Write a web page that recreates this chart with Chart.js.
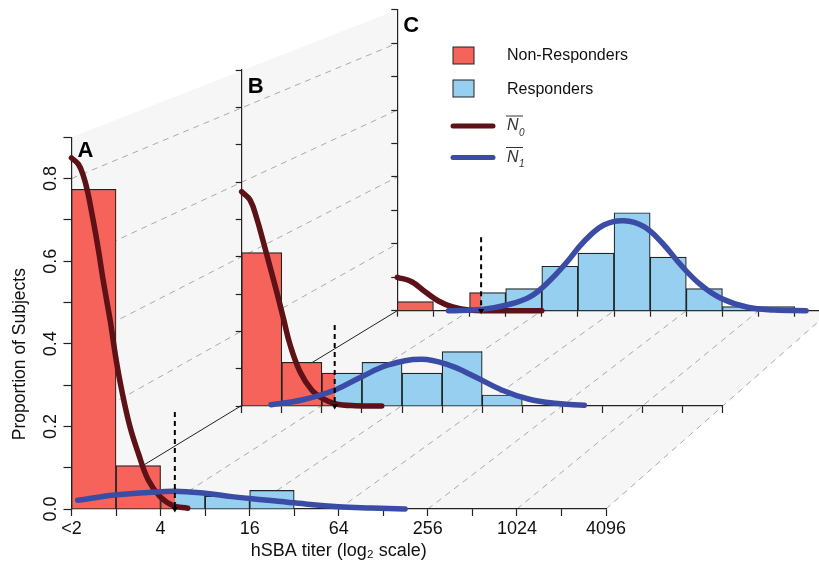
<!DOCTYPE html>
<html>
<head>
<meta charset="utf-8">
<title>hSBA titer</title>
<script src="https://cdn.jsdelivr.net/npm/chart.js@4"></script>
<style>
  html, body { margin: 0; padding: 0; background: #fff; overflow: hidden; }
  #wrap { position: relative; width: 819px; height: 562px; overflow: hidden; }
  #wrap canvas { position: absolute; left: 0; top: 0; }
</style>
</head>
<body>
<div id="wrap">
  <canvas id="chartC" width="900" height="562"></canvas>
  <canvas id="chartB" width="900" height="562"></canvas>
  <canvas id="chartA" width="900" height="562"></canvas>
</div>
<script>
// bins are log2 steps, 0 = <2 ... 12 = 4096
const binCentres = [0.5, 1.5, 2.5, 3.5, 4.5, 5.5, 6.5, 7.5, 8.5, 9.5, 10.5];
const xTickLabels = ['<2', '4', '16', '64', '256', '1024', '4096'];
const cutoff = 2.32;

const nonRespA = [0.774, 0.105, null, null, null, null, null, null, null, null, null];
const respA    = [null, null, 0.04, 0.031, 0.045, null, null, null, null, null, null];
const n0xA = [0, 0.153, 0.265, 0.364, 0.454, 0.543, 0.624, 0.7, 0.79, 0.88, 0.992, 1.127, 1.313, 1.5, 1.724, 1.987, 2.286, 2.609];
const n0yA = [0.85, 0.835, 0.807, 0.767, 0.718, 0.666, 0.614, 0.561, 0.505, 0.449, 0.368, 0.288, 0.199, 0.135, 0.07, 0.03, 0.008, 0.002];
const n1xA = [0.139, 0.977, 1.724, 2.324, 2.997, 3.597, 4.344, 5.092, 5.99, 6.74, 7.488];
const n1yA = [0.021, 0.034, 0.04, 0.043, 0.038, 0.03, 0.022, 0.0138, 0.0056, 0.0024, 0];
const dashTopA = 0.235;

const nonRespB = [0.411, 0.117, null, null, null, null, null, null, null, null, null];
const respB    = [null, null, 0.088, 0.117, 0.088, 0.1455, 0.0295, null, null, null, null];
const n0xB = [0, 0.207, 0.374, 0.539, 0.706, 0.873, 1.04, 1.207, 1.455, 1.747, 2.036, 2.329, 2.828, 3.494];
const n0yB = [0.574, 0.552, 0.503, 0.44, 0.373, 0.306, 0.235, 0.164, 0.0919, 0.0428, 0.0188, 0.0062, 0.0008, 0];
const n1xB = [0.731, 1.497, 2.328, 2.994, 3.658, 4.491, 5.155, 5.82, 6.487, 7.151, 7.817, 8.548];
const n1yB = [0.0035, 0.016, 0.043, 0.0785, 0.11, 0.125, 0.11, 0.0785, 0.043, 0.0188, 0.0072, 0.0019];
const dashTopB = 0.217;

const nonRespC = [0.027, null, null, null, null, null, null, null, null, null, null];
const respC    = [null, null, 0.054, 0.066, 0.133, 0.1725, 0.293, 0.16, 0.066, 0.012, 0.012];
const n0xC = [0, 0.4, 0.769, 1.138, 1.51, 1.97, 2.53, 3.27, 4.0];
const n0yC = [0.1, 0.0867, 0.0568, 0.029, 0.012, 0.002, 0, 0, 0];
const n1xC = [1.416, 2.343, 3.035, 3.682, 4.237, 4.703, 5.162, 5.717, 6.272, 6.828, 7.339, 7.847, 8.402, 8.957, 9.698, 10.436, 11.315];
const n1yC = [0, 0.004, 0.0171, 0.0419, 0.0918, 0.1465, 0.2063, 0.2562, 0.2691, 0.2512, 0.2016, 0.1367, 0.0769, 0.0371, 0.0102, 0.0021, 0];
const dashTopC = 0.2195;

const RED = '#f5635a', BLUE = '#96cfef', DARKRED = '#5c1216', DARKBLUE = '#3a4ca6', INK = '#222222';
const FONT = '"Liberation Sans", Arial, sans-serif';

function pts(xs, ys) { return xs.map((x, i) => ({ x: x, y: ys[i] })); }
function bars(vals) {
  return binCentres.map((x, i) => ({ x: x, y: vals[i] })).filter(p => p.y !== null);
}

// the bin holding the cutoff is red on the left of it and blue on the right
function respColor(c) {
  if (c.type !== 'data' || c.raw.x !== 2.5) return BLUE;
  const sx = c.chart.scales.x;
  const x0 = sx.getPixelForValue(2), x1 = sx.getPixelForValue(3);
  if (!isFinite(x0) || !isFinite(x1)) return BLUE; // scale not laid out yet
  const g = c.chart.ctx.createLinearGradient(x0, 0, x1, 0);
  const f = cutoff - 2;
  g.addColorStop(0, RED); g.addColorStop(f, RED);
  g.addColorStop(f, BLUE); g.addColorStop(1, BLUE);
  return g;
}

function panel(id, box, d, extra) {
  const yWidth = box.yWidth, xHeight = box.xHeight;
  return new Chart(document.getElementById(id), {
    type: 'bar',
    data: {
      datasets: [
        { label: 'Non-Responders', data: bars(d.non), backgroundColor: RED, borderColor: INK, borderWidth: 1.2,
          grouped: false, barPercentage: 1, categoryPercentage: 1, order: 6 },
        { label: 'Responders', data: bars(d.resp), backgroundColor: respColor, borderColor: INK, borderWidth: 1.2,
          grouped: false, barPercentage: 1, categoryPercentage: 1, order: 5 },
        { type: 'line', label: 'N0', data: d.n0, borderColor: DARKRED, borderWidth: 5.5, borderCapStyle: 'round',
          tension: 0.4, pointRadius: 0, clip: false, order: 4 },
        { type: 'line', label: 'N1', data: d.n1, borderColor: DARKBLUE, borderWidth: 5.5, borderCapStyle: 'round',
          tension: 0.4, pointRadius: 0, clip: false, order: 3 },
        { type: 'line', label: 'cutoff', data: d.dash, borderColor: '#000', borderWidth: 2, borderDash: [5, 4],
          pointStyle: 'triangle', pointRadius: [0, 3.5], pointRotation: 180, pointBackgroundColor: '#000',
          pointBorderWidth: 0, clip: false, order: 2 }
      ]
    },
    options: {
      responsive: false,
      animation: false,
      devicePixelRatio: 1,
      events: [],
      layout: { padding: { left: box.left - yWidth, right: 900 - box.right, top: box.top, bottom: 562 - box.bottom - xHeight } },
      plugins: { legend: { display: false }, tooltip: { enabled: false }, title: { display: false } },
      scales: {
        x: {
          type: 'linear', min: 0, max: 12, offset: false,
          afterFit: s => { s.height = xHeight; },
          grid: { offset: false, drawOnChartArea: false, tickLength: box.xTick, tickColor: INK, tickWidth: 1.2 },
          border: { color: INK, width: 1.2 },
          title: extra.xTitle || { display: false },
          ticks: {
            display: extra.labels, stepSize: 1, autoSkip: false, maxRotation: 0, padding: 2,
            color: '#111', font: { family: FONT, size: 18 },
            callback: v => (v % 2 === 0 ? xTickLabels[v / 2] : '')
          }
        },
        y: {
          type: 'linear', min: 0, max: 0.9,
          afterFit: s => { s.width = yWidth; },
          grid: { drawOnChartArea: false, tickLength: box.yTick, tickColor: INK, tickWidth: 1.2 },
          border: { color: INK, width: 1.2 },
          ticks: {
            display: extra.labels, stepSize: 0.1, autoSkip: false, minRotation: 90, maxRotation: 90, padding: 0,
            crossAlign: 'center', color: '#111', font: { family: FONT, size: 18 },
            callback: (v, i) => (i % 2 === 0 && i < 9 ? v.toFixed(1) : '')
          }
        }
      }
    },
    plugins: extra.plugins
  });
}

function panelLetter(letter, drop) {
  return {
    id: 'letter' + letter,
    afterDraw(chart) {
      const c = chart.ctx, s = chart.scales;
      c.save();
      c.font = 'bold 22px ' + FONT;
      c.fillStyle = '#000';
      c.textAlign = 'left';
      c.textBaseline = 'alphabetic';
      c.fillText(letter, s.x.getPixelForValue(0) + 6, s.y.getPixelForValue(0.9) + drop);
      c.restore();
    }
  };
}

const yTitlePlugin = {
  id: 'yTitle',
  afterDraw(chart) {
    const c = chart.ctx;
    c.save();
    c.translate(20, chart.scales.y.getPixelForValue(0.375));
    c.rotate(-Math.PI / 2);
    c.font = '17.5px ' + FONT;
    c.fillStyle = '#111';
    c.textAlign = 'center';
    c.textBaseline = 'middle';
    c.fillText('Proportion of Subjects', 0, 0);
    c.restore();
  }
};

const chartA = panel('chartA',
  { left: 71.5, right: 606, top: 137.3, bottom: 509, yWidth: 71.5, xHeight: 53, xTick: 7, yTick: 8 },
  { non: nonRespA, resp: respA, n0: pts(n0xA, n0yA), n1: pts(n1xA, n1yA), dash: [{ x: cutoff, y: dashTopA }, { x: cutoff, y: 0 }] },
  { labels: true,
    xTitle: { display: true, text: 'hSBA titer (log\u2082 scale)', color: '#111', font: { family: FONT, size: 18 }, padding: { top: 0, bottom: 0 } },
    plugins: [panelLetter('A', 20), yTitlePlugin] });

const chartB = panel('chartB',
  { left: 241.7, right: 722.7, top: 70, bottom: 406, yWidth: 7, xHeight: 7, xTick: 7, yTick: 6 },
  { non: nonRespB, resp: respB, n0: pts(n0xB, n0yB), n1: pts(n1xB, n1yB), dash: [{ x: cutoff, y: dashTopB }, { x: cutoff, y: 0 }] },
  { labels: false, plugins: [panelLetter('B', 23)] });

// back walls and floor join the three panels, drawn behind panel C
const wallPlugin = {
  id: 'walls',
  beforeDraw(chart) {
    const c = chart.ctx;
    const ax = chartA.scales.x, ay = chartA.scales.y, cx = chart.scales.x, cy = chart.scales.y;
    const x0a = ax.getPixelForValue(0), x0c = cx.getPixelForValue(0);
    c.save();
    c.fillStyle = '#f6f6f6';
    c.beginPath();
    c.moveTo(x0a, ay.getPixelForValue(0));
    c.lineTo(x0a, ay.getPixelForValue(0.9));
    c.lineTo(x0c, cy.getPixelForValue(0.9));
    c.lineTo(x0c, cy.getPixelForValue(0));
    c.lineTo(cx.getPixelForValue(12), cy.getPixelForValue(0));
    c.lineTo(ax.getPixelForValue(12), ay.getPixelForValue(0));
    c.closePath();
    c.fill();
    c.strokeStyle = '#aaaaaa';
    c.lineWidth = 1;
    c.setLineDash([6, 5]);
    [0.2, 0.4, 0.6, 0.8].forEach(v => {
      c.beginPath();
      c.moveTo(x0a, ay.getPixelForValue(v));
      c.lineTo(x0c, cy.getPixelForValue(v));
      c.stroke();
    });
    [2, 4, 6, 8, 10, 12].forEach(v => {
      c.beginPath();
      c.moveTo(ax.getPixelForValue(v), ay.getPixelForValue(0));
      c.lineTo(cx.getPixelForValue(v), cy.getPixelForValue(0));
      c.stroke();
    });
    c.setLineDash([]);
    c.strokeStyle = INK;
    c.beginPath();
    c.moveTo(x0a, ay.getPixelForValue(0));
    c.lineTo(x0c, cy.getPixelForValue(0));
    c.stroke();
    c.restore();
  }
};

const legendPlugin = {
  id: 'legendBox',
  afterDraw(chart) {
    const c = chart.ctx;
    c.save();
    c.lineWidth = 1;
    c.strokeStyle = INK;
    c.fillStyle = RED; c.fillRect(453, 47, 21, 17); c.strokeRect(453, 47, 21, 17);
    c.fillStyle = BLUE; c.fillRect(453, 80, 21, 17); c.strokeRect(453, 80, 21, 17);
    c.font = '16px ' + FONT;
    c.fillStyle = '#111';
    c.textBaseline = 'middle';
    c.textAlign = 'left';
    c.fillText('Non-Responders', 507, 56);
    c.fillText('Responders', 507, 90);
    c.lineCap = 'round';
    c.lineWidth = 5;
    c.strokeStyle = DARKRED;
    c.beginPath(); c.moveTo(453, 126); c.lineTo(493, 126); c.stroke();
    c.strokeStyle = DARKBLUE;
    c.beginPath(); c.moveTo(453, 157.5); c.lineTo(493, 157.5); c.stroke();
    c.lineCap = 'butt';
    c.lineWidth = 1;
    c.strokeStyle = '#333';
    c.fillStyle = '#333';
    [[126, '0'], [157.5, '1']].forEach(row => {
      c.beginPath(); c.moveTo(506, row[0] - 10); c.lineTo(523, row[0] - 10); c.stroke();
      c.font = 'italic 16px ' + FONT;
      c.fillText('N', 507, row[0]);
      c.font = 'italic 10px ' + FONT;
      c.fillText(row[1], 519, row[0] + 7);
    });
    c.restore();
  }
};

const chartC = panel('chartC',
  { left: 397.3, right: 830.8, top: 9.7, bottom: 310.7, yWidth: 6, xHeight: 6, xTick: 6, yTick: 6 },
  { non: nonRespC, resp: respC, n0: pts(n0xC, n0yC), n1: pts(n1xC, n1yC), dash: [{ x: cutoff, y: dashTopC }, { x: cutoff, y: 0 }] },
  { labels: false, plugins: [wallPlugin, panelLetter('C', 22), legendPlugin] });
</script>
</body>
</html>
